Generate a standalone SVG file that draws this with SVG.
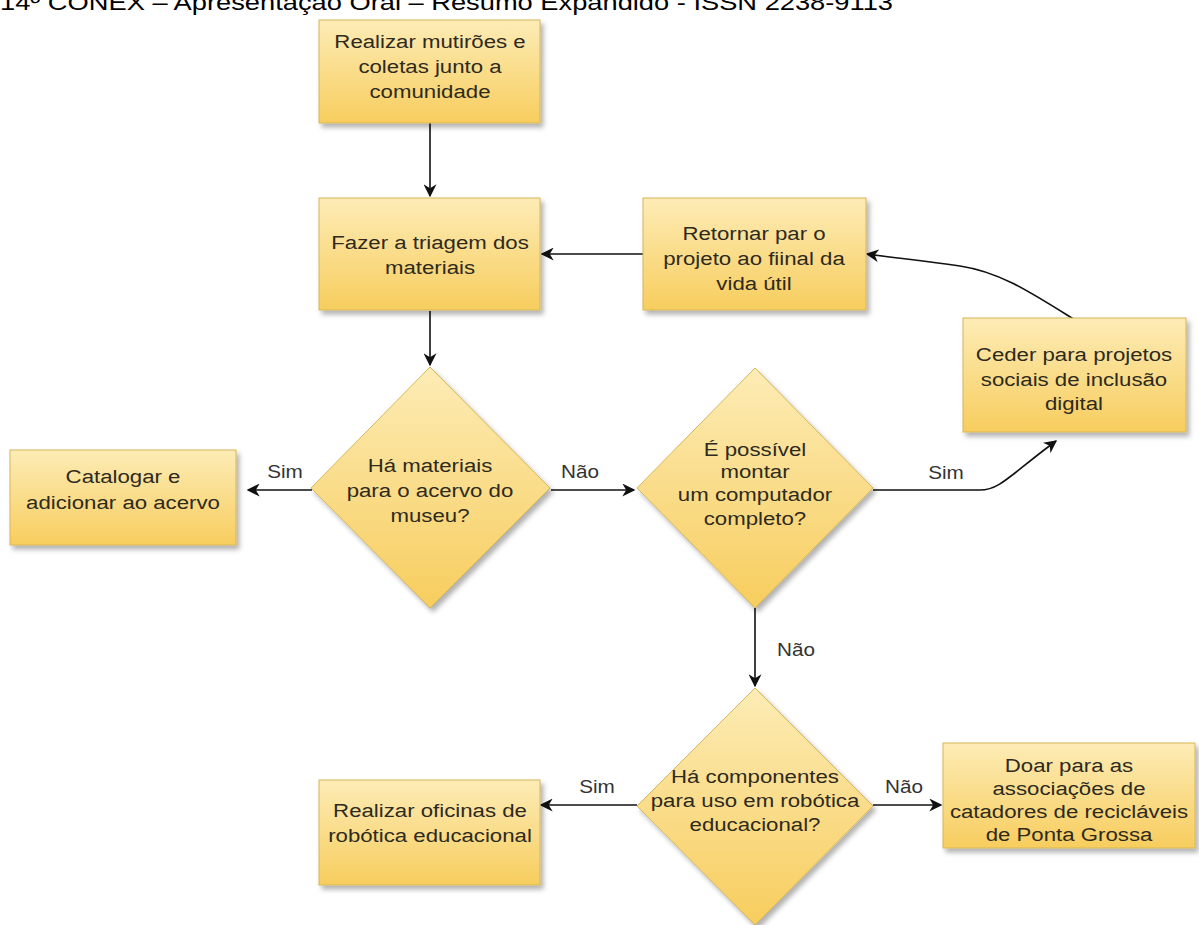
<svg xmlns="http://www.w3.org/2000/svg" width="1199" height="925" viewBox="0 0 1199 925">
<defs>
<linearGradient id="g" x1="0" y1="0" x2="0" y2="1">
<stop offset="0" stop-color="#fdecb6"/>
<stop offset="1" stop-color="#f7cd5e"/>
</linearGradient>
<filter id="sh" x="-10%" y="-10%" width="125%" height="130%">
<feDropShadow dx="3" dy="4" stdDeviation="2.5" flood-color="#000" flood-opacity="0.3"/>
</filter>
<marker id="ah" viewBox="0 0 10 10" refX="9" refY="5" markerWidth="13" markerHeight="13" markerUnits="userSpaceOnUse" orient="auto">
<path d="M0,0 L10,5 L0,10 L3,5 Z" fill="#111"/>
</marker>
</defs>
<style>
.n{fill:url(#g);stroke:#d6b656;stroke-width:1;filter:url(#sh)}
.t{font-family:"Liberation Sans",Arial,sans-serif;font-size:19px;fill:#2e2a1e;text-anchor:middle}
.l{font-family:"Liberation Sans",Arial,sans-serif;font-size:18px;fill:#333;text-anchor:middle}
.c{fill:none;stroke:#111;stroke-width:1.6;marker-end:url(#ah)}
.h{font-family:"Liberation Sans",Arial,sans-serif;font-size:22px;fill:#000}
</style>
<rect width="1199" height="925" fill="#fff"/>
<text class="h" x="0" y="10" textLength="893" lengthAdjust="spacingAndGlyphs">14º CONEX – Apresentação Oral – Resumo Expandido - ISSN 2238-9113</text>

<g id="connectors">
<path class="c" d="M430,123 L430,196"/>
<path class="c" d="M430,311 L430,365"/>
<path class="c" d="M643,254 L542,254"/>
<path class="c" d="M1075,320 C1030,292 1000,272 960,266 C920,260 895,258 867,254"/>
<path class="c" d="M312,490 L248,490"/>
<path class="c" d="M551,490 L634,490"/>
<path class="c" d="M873,490 L980,490 C1000,490 1010,475 1056,441"/>
<path class="c" d="M755,608 L755,686"/>
<path class="c" d="M637,805 L541,805"/>
<path class="c" d="M873,805 L941,805"/>
<text class="l" transform="translate(285 478) scale(1.15 1)">Sim</text>
<text class="l" transform="translate(580 478) scale(1.15 1)">Não</text>
<text class="l" transform="translate(946 479) scale(1.15 1)">Sim</text>
<text class="l" transform="translate(796 656) scale(1.15 1)">Não</text>
<text class="l" transform="translate(597 793) scale(1.15 1)">Sim</text>
<text class="l" transform="translate(904 793) scale(1.15 1)">Não</text>
</g>

<g id="n1"><rect class="n" x="319" y="20" width="221" height="103"/>
<text class="t" transform="translate(430 0) scale(1.17 1)"><tspan x="0" y="48">Realizar mutirões e</tspan><tspan x="0" y="73">coletas junto a</tspan><tspan x="0" y="98">comunidade</tspan></text></g>

<g id="n2"><rect class="n" x="319" y="198" width="221" height="112"/>
<text class="t" transform="translate(430 0) scale(1.17 1)"><tspan x="0" y="249">Fazer a triagem dos</tspan><tspan x="0" y="274">materiais</tspan></text></g>

<g id="n3"><rect class="n" x="643" y="198" width="223" height="112"/>
<text class="t" transform="translate(754 0) scale(1.17 1)"><tspan x="0" y="240">Retornar par o</tspan><tspan x="0" y="265">projeto ao fiinal da</tspan><tspan x="0" y="290">vida útil</tspan></text></g>

<g id="n4"><rect class="n" x="963" y="318" width="223" height="114"/>
<text class="t" transform="translate(1074 0) scale(1.17 1)"><tspan x="0" y="361">Ceder para projetos</tspan><tspan x="0" y="386">sociais de inclusão</tspan><tspan x="0" y="410">digital</tspan></text></g>

<g id="n5"><rect class="n" x="10" y="450" width="226" height="95"/>
<text class="t" transform="translate(123 0) scale(1.17 1)"><tspan x="0" y="483">Catalogar e</tspan><tspan x="0" y="509">adicionar ao acervo</tspan></text></g>

<g id="n6"><polygon class="n" points="430,367 550,488 430,608 311,488"/>
<text class="t" transform="translate(430 0) scale(1.17 1)"><tspan x="0" y="472">Há materiais</tspan><tspan x="0" y="497">para o acervo do</tspan><tspan x="0" y="522">museu?</tspan></text></g>

<g id="n7"><polygon class="n" points="755,368 873,488 755,608 637,488"/>
<text class="t" transform="translate(755 0) scale(1.17 1)"><tspan x="0" y="456">É possível</tspan><tspan x="0" y="478">montar</tspan><tspan x="0" y="501">um computador</tspan><tspan x="0" y="525">completo?</tspan></text></g>

<g id="n8"><polygon class="n" points="755,688 873,806 755,925 637,806"/>
<text class="t" transform="translate(755 0) scale(1.17 1)"><tspan x="0" y="783">Há componentes</tspan><tspan x="0" y="807">para uso em robótica</tspan><tspan x="0" y="831">educacional?</tspan></text></g>

<g id="n9"><rect class="n" x="319" y="780" width="221" height="105"/>
<text class="t" transform="translate(430 0) scale(1.17 1)"><tspan x="0" y="817">Realizar oficinas de</tspan><tspan x="0" y="842">robótica educacional</tspan></text></g>

<g id="n10"><rect class="n" x="943" y="743" width="252" height="105"/>
<text class="t" transform="translate(1069 0) scale(1.17 1)"><tspan x="0" y="772">Doar para as</tspan><tspan x="0" y="795">associações de</tspan><tspan x="0" y="818">catadores de recicláveis</tspan><tspan x="0" y="841">de Ponta Grossa</tspan></text></g>
</svg>
